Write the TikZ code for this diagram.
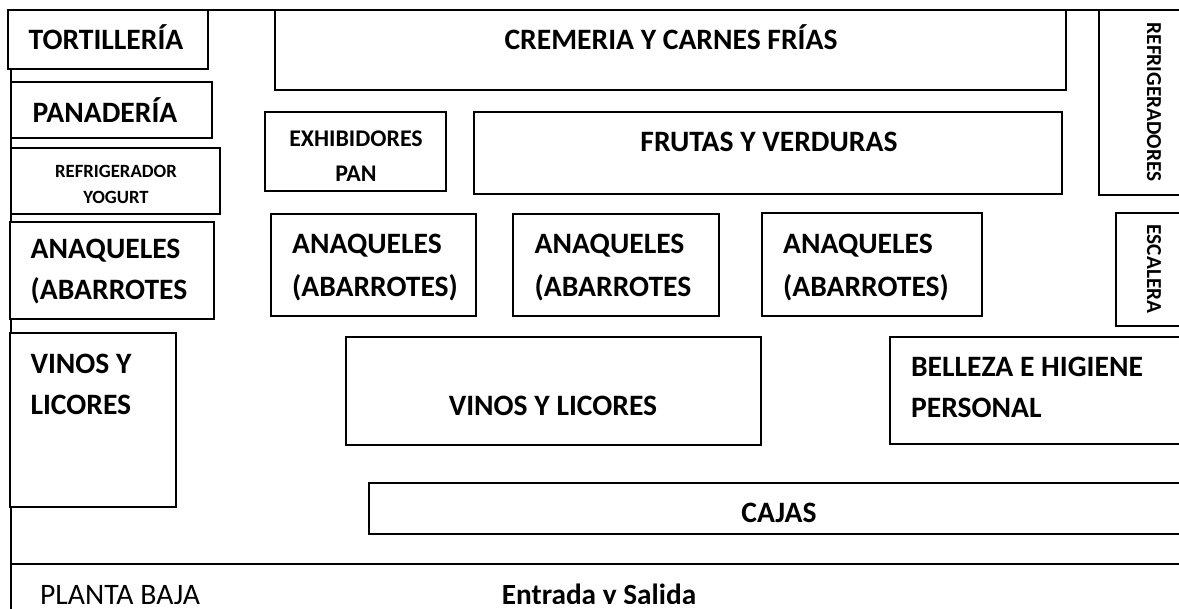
\documentclass[tikz,border=0pt]{standalone}
\usepackage{fontspec}
\setmainfont{Carlito}
\tikzset{
  x=1pt,y=-1pt,
  boxa/.style={draw=black,line width=1.6pt,fill=white,inner sep=0pt,outer sep=0pt},
  wall/.style={draw=black,line width=2pt},
  big/.style={font=\bfseries\fontsize{29.6}{41}\selectfont,align=left,inner sep=0pt,text=black},
  bigwide/.style={font=\bfseries\fontsize{29.6}{43}\selectfont,align=left,inner sep=0pt,text=black},
  midt/.style={font=\bfseries\fontsize{23.9}{35}\selectfont,align=center,inner sep=0pt,text=black},
  smallt/.style={font=\bfseries\fontsize{18.7}{26}\selectfont,align=center,inner sep=0pt,text=black},
  sidet/.style={font=\bfseries\fontsize{21.3}{24}\selectfont,inner sep=0pt,text=black,rotate=-90},
  plain/.style={font=\fontsize{29.7}{34}\selectfont,inner sep=0pt,text=black},
}
\newcommand{\zone}[5]{\node[boxa,anchor=north west,minimum width=#3-#1,minimum height=#4-#2] (#5) at (#1,#2) {};}
\begin{document}
\begin{tikzpicture}
\useasboundingbox (0,0) rectangle (1179,609);
\begin{scope}
\clip (0,0) rectangle (1179,609);
\coordinate (tl) at (11,10);
\coordinate (tr) at (1179,10);
\coordinate (bl) at (11,609);
\coordinate (fl) at (11,564);
\coordinate (fr) at (1179,564);
\draw[wall] (tl) -- (tr);
\draw[wall] (tl) -- (bl);
\draw[wall] (fl) -- (fr);
\zone{8}{10}{208}{69}{tort}
\zone{11}{82}{212}{138}{pana}
\zone{11}{148}{220}{214}{yog}
\zone{10}{222}{214}{319}{anaL}
\zone{10}{333}{176}{507}{vinL}
\zone{275}{10}{1066}{90}{crem}
\zone{265}{112}{446}{191}{exh}
\zone{474}{112}{1062}{194}{frut}
\zone{271}{214}{476}{316}{anaA}
\zone{513}{214}{719}{316}{anaB}
\zone{762}{213}{982}{316}{anaC}
\zone{346}{337}{761}{445}{vinC}
\zone{890}{337}{1190}{444}{bel}
\zone{369}{483}{1190}{534}{caj}
\zone{1099}{10}{1190}{195}{refr}
\zone{1116}{213}{1190}{326}{esc}
\node[big] (t1) at (106,37) {TORTILLERÍA};
\node[big] (t2) at (105,110) {PANADERÍA};
\node[smallt] (t3) at (116,184) {REFRIGERADOR\\YOGURT};
\node[big] (t4) at (109,272) {ANAQUELES\\(ABARROTES};
\node[big] (t5) at (81,384) {VINOS Y\\LICORES};
\node[big] (t6) at (671,37) {CREMERIA Y CARNES FRÍAS};
\node[midt] (t7) at (356,156) {EXHIBIDORES\\PAN};
\node[big] (t8) at (769,142) {FRUTAS Y VERDURAS};
\node[bigwide] (t9) at (375,268) {ANAQUELES\\(ABARROTES)};
\node[bigwide] (t10) at (613,268) {ANAQUELES\\(ABARROTES};
\node[bigwide] (t11) at (866,268) {ANAQUELES\\(ABARROTES)};
\node[big] (t12) at (553,406) {VINOS Y LICORES};
\node[big] (t13) at (1027,387) {BELLEZA E HIGIENE\\PERSONAL};
\node[big] (t14) at (779,513) {CAJAS};
\node[sidet] (t15) at (1154,102) {REFRIGERADORES};
\node[sidet] (t16) at (1154,269) {ESCALERA};
\node[plain] (t17) at (120,595) {PLANTA BAJA};
\node[font=\bfseries\fontsize{29.3}{34}\selectfont,inner sep=0pt] (t18) at (599,597) {Entrada y Salida};
\fill[white] (14,604) rectangle (1179,612);
\end{scope}
\end{tikzpicture}
\end{document}
